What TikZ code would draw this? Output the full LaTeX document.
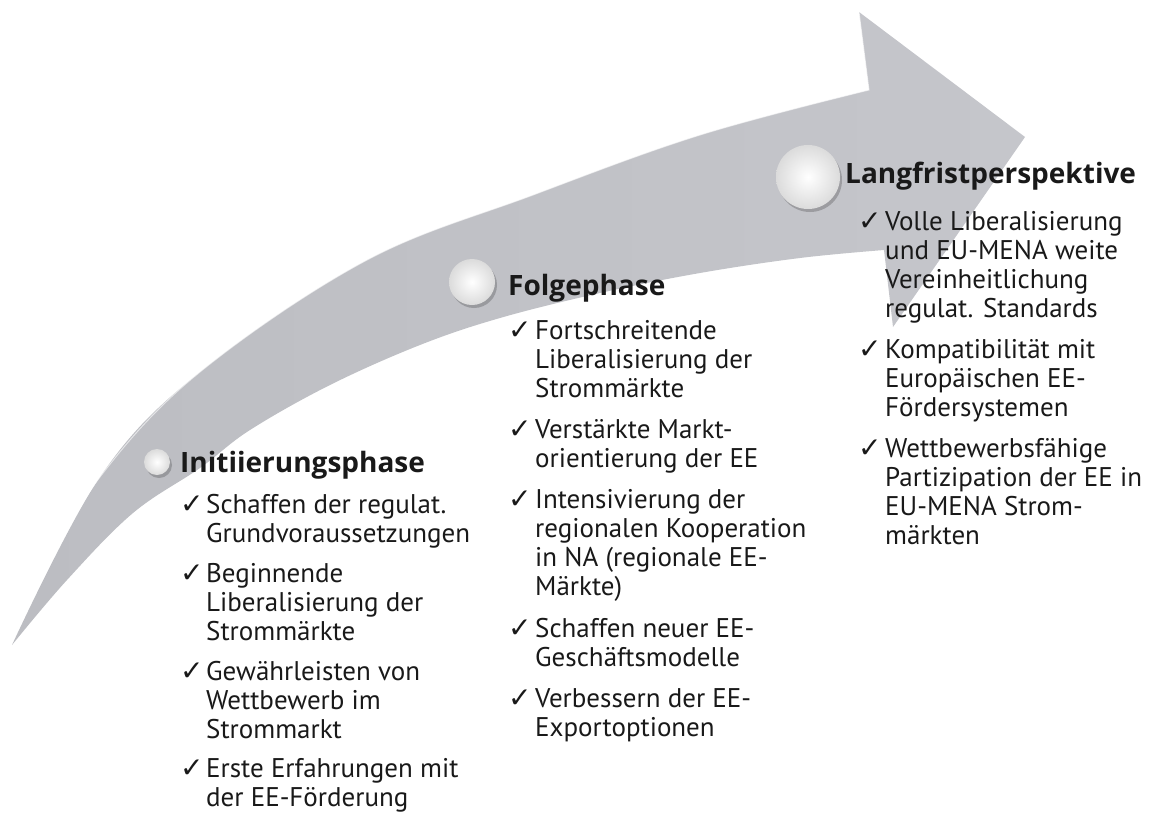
\documentclass[tikz,border=0pt]{standalone}
\usepackage{fontspec}
\setmainfont{PT Sans}
\newfontfamily\headfont{Open Sans}
\newfontfamily\checkfont{DejaVu Sans}
\usetikzlibrary{positioning}
\definecolor{arrowtail}{RGB}{188,189,194}
\definecolor{arrowmid}{RGB}{205,206,212}
\definecolor{arrowhead}{RGB}{197,198,203}

\begin{document}
\begin{tikzpicture}[x=1pt,y=-1pt,
  phase/.style={anchor=base west,inner sep=0pt,text=black!90,font=\headfont\fontsize{28}{30}\selectfont\bfseries},
  item/.style={anchor=base west,inner sep=0pt,align=left,text=black!90,font=\fontsize{27}{29.3}\selectfont},
  tick/.style={anchor=base west,inner sep=0pt,text=black!90,font=\checkfont\fontsize{28}{28}\selectfont},
  pearl/.style={circle,inner sep=0pt,shading=radial,inner color=white,outer color=black!14},
  pearlshadow/.style={circle,inner sep=0pt,fill=black,opacity=0.2}]
\useasboundingbox (0,0) rectangle (1164,814);

% the big arrow
\shade[left color=arrowtail,middle color=arrowmid,right color=arrowhead]
  plot[smooth,tension=0.6] coordinates {(12,645) (100,477) (200,372) (367,260) (533,195) (700,135) (869,90)}
  -- (859,12) -- (1025,137) -- (893,327) -- (884,250)
  -- plot[smooth,tension=0.6] coordinates {(884,250) (800,258) (700,273) (600,293) (500,318) (420,345) (330,385) (250,430) (200,468) (133,513) (67,580) (12,645)}
  -- cycle;
\draw[white,opacity=0.6,line width=1pt]
  plot[smooth,tension=0.6] coordinates {(40,580) (100,477) (200,372) (367,260) (533,195) (700,135) (869,90)}
  -- (859,12);

% pearls
\foreach \n/\x/\y/\r in {p1/157/462/13,p2/472/282/23,p3/808/177/32}
{
	\node[pearlshadow,minimum size=2*\r pt] at (\x+2,\y+3) {};
	\node[pearl,minimum size=2*\r pt] (\n) at (\x,\y) {};
}

% headings
\node[phase] (h1) at (180,472) {Initiierungsphase};
\node[phase] (h2) at (508,295) {Folgephase};
\node[phase] (h3) at (845,183) {Langfristperspektive};

% first phase (\y = first baseline, \k = number of lines)
\foreach \y/\k/\txt [count=\i] in {513/2/{Schaffen der regulat.\\Grundvoraussetzungen},
  582/3/{Beginnende\\Liberalisierung der\\Strommärkte},
  680/3/{Gewährleisten von\\Wettbewerb im\\Strommarkt},
  777/2/{Erste Erfahrungen mit\\der EE-Förderung}}
{
	\node[tick] (ta\i) at (180,\y) {✓};
	\node[item] (a\i) at (206,\y+29.3*\k-29.3) {\txt};
}

% second phase
\foreach \y/\k/\txt [count=\i] in {339/3/{Fortschreitende\\Liberalisierung der\\Strommärkte},
  438/2/{Verstärkte Markt-\\orientierung der EE},
  508/4/{Intensivierung der\\regionalen Kooperation\\in NA (regionale EE-\\Märkte)},
  637/2/{Schaffen neuer EE-\\Geschäftsmodelle},
  707/2/{Verbessern der EE-\\Exportoptionen}}
{
	\node[tick] (tb\i) at (508,\y) {✓};
	\node[item] (b\i) at (535,\y+29.3*\k-29.3) {\txt};
}

% third phase
\foreach \y/\k/\txt [count=\i] in {230/4/{Volle Liberalisierung\\und EU-MENA weite\\Vereinheitlichung\\regulat. Standards},
  358/3/{Kompatibilität mit\\Europäischen EE-\\Fördersystemen},
  457/4/{Wettbewerbsfähige\\Partizipation der EE in\\EU-MENA Strom-\\märkten}}
{
	\node[tick] (tc\i) at (858,\y) {✓};
	\node[item] (c\i) at (885,\y+29.3*\k-29.3) {\txt};
}
\end{tikzpicture}
\end{document}
